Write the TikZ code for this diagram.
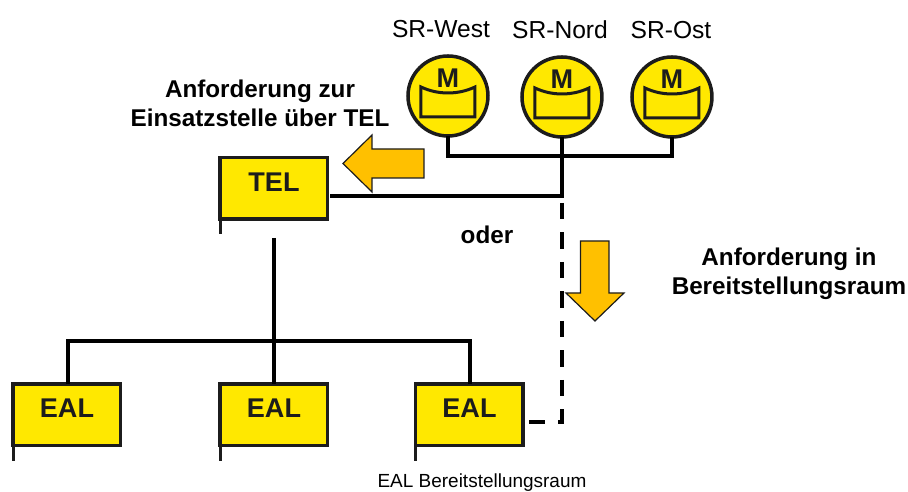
\documentclass[tikz,border=0pt]{standalone}
\usepackage{fontspec}
\setmainfont{Liberation Sans}
\usepackage{xcolor}
\usepackage{tikz}
\definecolor{boxyellow}{HTML}{FFE800}
\definecolor{arroworange}{HTML}{FFC000}
\definecolor{boxline}{HTML}{1C1C1C}
\tikzset{
  flagbox/.style={rectangle, fill=boxyellow, draw=boxline, line width=0.035cm, inner sep=0pt, outer sep=0pt, minimum width=1.075cm, minimum height=0.615cm, text=boxline, text height=0.30cm, text depth=0.242cm, font=\fontsize{7.7}{9}\selectfont\bfseries},
  melder/.style={circle, fill=boxyellow, draw=boxline, line width=0.035cm, minimum size=0.80cm, inner sep=0pt, outer sep=0pt},
  conn/.style={line width=0.04cm, black},
  blockarrow/.style={fill=arroworange, draw=boxline, line width=0.012cm},
  plainlabel/.style={font=\fontsize{7.0}{8.5}\selectfont},
  boldlabel/.style={font=\fontsize{6.9}{8.3}\selectfont\bfseries, align=center}
}
\begin{document}
\begin{tikzpicture}
  \useasboundingbox (0,0) rectangle (9.08,-4.92);

  \node[plainlabel] (labwest) at (4.41,-0.29) {SR-West};
  \node[plainlabel] (labnord) at (5.60,-0.30) {SR-Nord};
  \node[plainlabel] (labost) at (6.71,-0.30) {SR-Ost};
  \node[boldlabel] (labtel) at (2.60,-1.03) {Anforderung zur\\Einsatzstelle über TEL};
  \node[boldlabel] (laboder) at (4.87,-2.35) {oder};
  \node[boldlabel] (labraum) at (7.89,-2.74) {Anforderung in\\Bereitstellungsraum};
  \node[font=\fontsize{5.4}{7}\selectfont] (labeal) at (4.82,-4.83) {EAL Bereitstellungsraum};

  \node[melder] (west) at (4.48,-0.96) {};
  \node[melder] (nord) at (5.62,-0.97) {};
  \node[melder] (ost) at (6.72,-0.97) {};

  \foreach \m in {west, nord, ost} {
    \draw[line width=0.03cm, draw=boxline] ([shift={(-0.27,0.09)}]\m.center) .. controls ([shift={(-0.1,0.01)}]\m.center) and ([shift={(0.1,0.01)}]\m.center) .. ([shift={(0.27,0.09)}]\m.center) -- ([shift={(0.27,-0.21)}]\m.center) -- ([shift={(-0.27,-0.21)}]\m.center) -- cycle;
    \node[font=\fontsize{7.7}{9}\selectfont\bfseries, text=boxline] (\m lab) at ([yshift=0.18cm]\m.center) {M};
  }

  \node[flagbox] (tel) at (2.74,-1.885) {TEL};
  \node[flagbox] (eala) at (0.67,-4.15) {EAL};
  \node[flagbox] (ealb) at (2.74,-4.15) {EAL};
  \node[flagbox] (ealc) at (4.695,-4.15) {EAL};

  % flag poles
  \foreach \b in {tel, eala, ealb, ealc}
    \draw[line width=0.03cm, draw=boxline] (\b.south west) -- ++(0,-0.15);

  \coordinate (busw) at (4.48,-1.56);
  \coordinate (buso) at (6.72,-1.56);
  \coordinate (knick) at (5.62,-1.96);
  \coordinate (telend) at (3.30,-1.96);
  \coordinate (telstart) at (2.74,-2.38);
  \coordinate (busl) at (0.68,-3.41);
  \coordinate (busr) at (4.70,-3.41);
  \coordinate (dashstart) at (5.62,-2.03);
  \coordinate (ealknick) at (5.62,-4.22);
  \coordinate (ealend) at (5.28,-4.22);

  \draw[conn] (west) -- (busw) -- (buso) -- (ost);
  \draw[conn] (nord) -- (knick) -- (telend);
  \draw[conn] (telstart) -- (ealb.north);
  \draw[conn] (eala.north -| busl) -- (busl) -- (busr) -- (ealc.north -| busr);
  \draw[conn, dash pattern=on 0.165cm off 0.13cm] (dashstart) -- (ealknick) -- (ealend);

  \draw[blockarrow] (3.43,-1.635) -- (3.72,-1.35) -- (3.72,-1.49) -- (4.24,-1.49) -- (4.24,-1.78) -- (3.72,-1.78) -- (3.72,-1.92) -- cycle;
  \draw[blockarrow] (5.95,-3.21) -- (5.66,-2.93) -- (5.805,-2.93) -- (5.805,-2.41) -- (6.09,-2.41) -- (6.09,-2.93) -- (6.24,-2.93) -- cycle;
\end{tikzpicture}
\end{document}
